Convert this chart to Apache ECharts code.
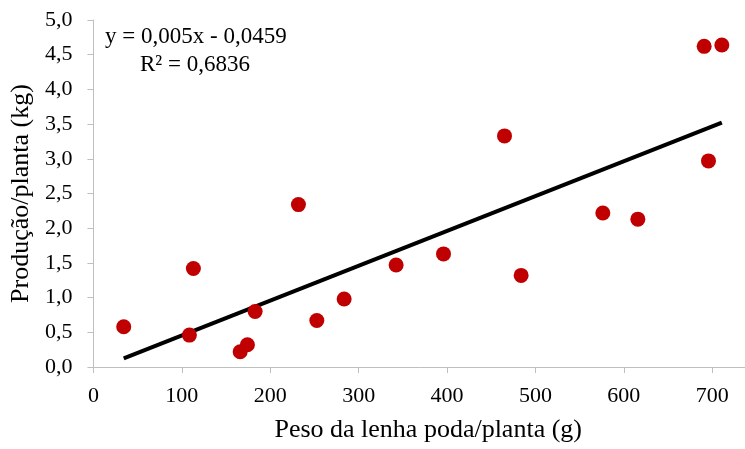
<!DOCTYPE html>
<html>
<head>
<meta charset="utf-8">
<script src="https://cdn.jsdelivr.net/npm/echarts@6/dist/echarts.min.js"></script>
<style>
    html, body { margin: 0; padding: 0; background: #fff; overflow: hidden; }
    #container { width: 745px; height: 449px; }
</style>
</head>
<body>
<div id="container"></div>
<script type="text/javascript">
    // pontos
    var pesoLenha = [34.3, 108.6, 113.1, 166, 174.2, 182.9, 231.9, 252.7, 283.6, 342.4, 396, 465, 483.8, 576.2, 615.8, 690.8, 695.7, 710.8];
    var producao = [0.58, 0.46, 1.42, 0.22, 0.32, 0.80, 2.34, 0.67, 0.98, 1.47, 1.63, 3.33, 1.32, 2.22, 2.13, 4.62, 2.97, 4.64];

    // linha de tendencia (extremos)
    var trendX = [34.3, 710.8];
    var trendY = [0.125, 3.52];

    var xTicks = [0, 100, 200, 300, 400, 500, 600, 700];

    var equacao = 'y = 0,005x - 0,0459';
    var r2 = 'R² = 0,6836';

    var font = '"Liberation Serif", "Times New Roman", serif';
    var axisGray = '#bfbfbf';

    var dom = document.getElementById("container");
    var myChart = echarts.init(dom);

    var option = {
        animation: false,
        textStyle: { fontFamily: font },
        grid: { left: 93, right: 0, top: 20, bottom: 82, containLabel: false },
        xAxis: {
            type: 'value',
            min: 0,
            max: 737,   // eixo cortado na borda direita
            splitLine: { show: false },
            axisLine: { lineStyle: { color: axisGray, width: 1 } },
            axisTick: { show: true, length: 6, lineStyle: { color: axisGray }, customValues: xTicks },
            axisLabel: { customValues: xTicks, color: '#000', fontSize: 22, fontFamily: font, margin: 18 },
            name: 'Peso da lenha poda/planta (g)',
            nameLocation: 'middle',
            nameGap: 50,
            nameTextStyle: { color: '#000', fontSize: 26, fontFamily: font, padding: [0, 0, 0, 18] }
        },
        yAxis: {
            type: 'value',
            min: 0,
            max: 5,
            interval: 0.5,
            splitLine: { show: false },
            axisLine: { show: true, lineStyle: { color: axisGray, width: 1 } },
            axisTick: { show: true, length: 6, lineStyle: { color: axisGray } },
            axisLabel: {
                color: '#000', fontSize: 22, fontFamily: font, margin: 21,
                formatter: function (v) { return v.toFixed(1).replace('.', ','); }
            },
            name: 'Produção/planta (kg)',
            nameLocation: 'middle',
            nameGap: 57,
            nameTextStyle: { color: '#000', fontSize: 26, fontFamily: font }
        },
        graphic: [
            { type: 'text', x: 105, y: 37, style: { text: equacao, fill: '#000', font: '23px ' + font, verticalAlign: 'middle' } },
            { type: 'text', x: 140, y: 65, style: { text: r2, fill: '#000', font: '23px ' + font, verticalAlign: 'middle' } }
        ],
        series: [
            {
                name: 'tendencia',
                type: 'line',
                data: trendX.map(function (x, i) { return [x, trendY[i]]; }),
                symbol: 'none',
                lineStyle: { color: '#000', width: 4 },
                z: 2
            },
            {
                name: 'producao',
                type: 'scatter',
                data: pesoLenha.map(function (x, i) { return [x, producao[i]]; }),
                symbolSize: 15,
                itemStyle: { color: '#c00000', opacity: 1 },
                z: 3
            }
        ]
    };

    if (option && typeof option === 'object') {
        myChart.setOption(option);
    }
</script>
</body>
</html>
